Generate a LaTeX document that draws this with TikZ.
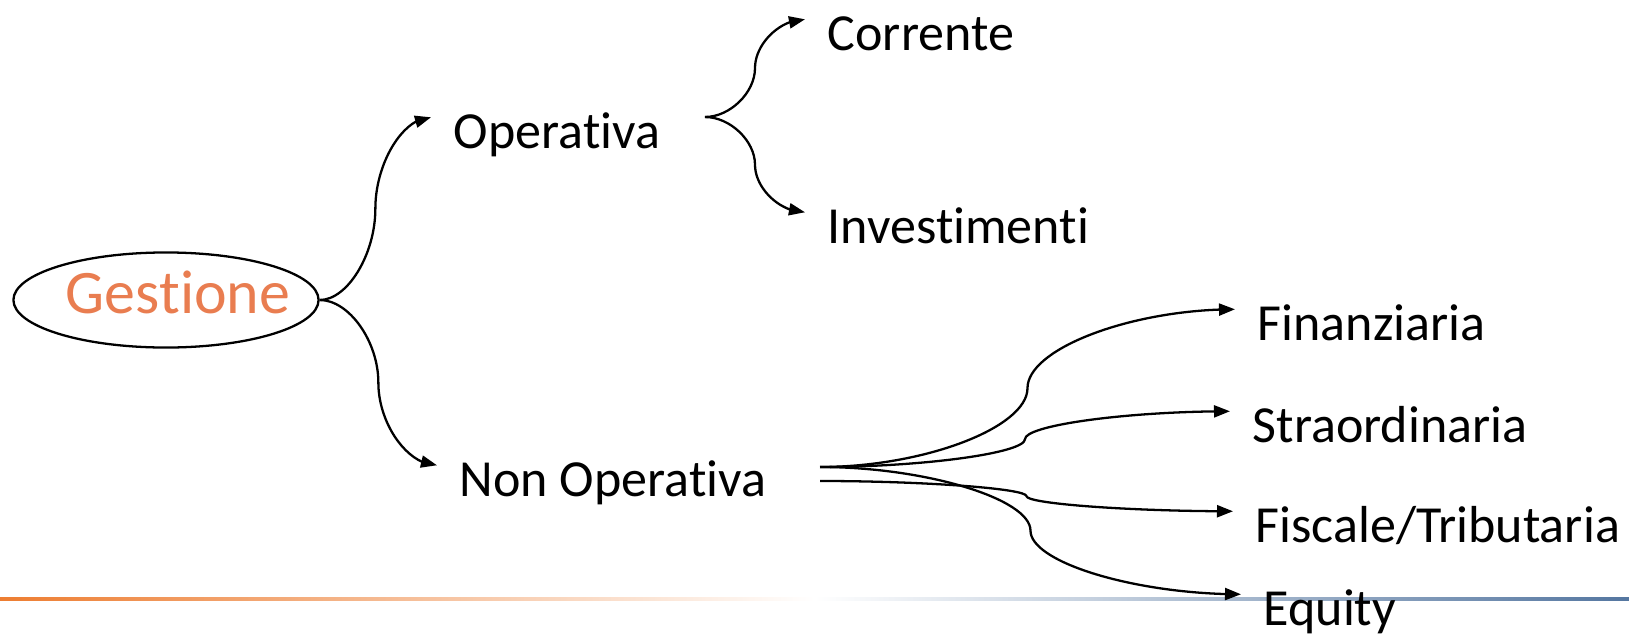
\documentclass[tikz,border=0pt]{standalone}
\usepackage{fontspec}
\setmainfont{Carlito}[Ligatures=NoCommon]
\usetikzlibrary{shapes.geometric,arrows.meta,bending,calc}
\definecolor{gestorange}{RGB}{233,125,80}
\definecolor{barorange}{RGB}{237,125,49}
\definecolor{barblue}{RGB}{84,118,160}
\begin{document}
\begin{tikzpicture} [x=0.01cm,y=-0.01cm,
    voce/.style={anchor=base west,inner sep=0pt,inner xsep=0.22cm,text height=0.3cm,text depth=0pt,font=\fontsize{14.8}{17}\selectfont},
    ramo/.style={line width=0.65pt,-{Triangle[length=0.16cm,width=0.12cm]},
        to path={let \p1=(\tikztostart), \p2=(\tikztotarget) in
            .. controls ({0.75*\x1+0.25*\x2},\y1) and ({0.5*\x1+0.5*\x2},{0.75*\y1+0.25*\y2})
            .. ({0.5*\x1+0.5*\x2},{0.5*\y1+0.5*\y2})
            .. controls ({0.5*\x1+0.5*\x2},{0.25*\y1+0.75*\y2}) and ({0.25*\x1+0.75*\x2},\y2)
            .. (\tikztotarget)}}]
\useasboundingbox (0,0) rectangle (1629,636);

%bar
        \shade[left color=barorange,right color=barblue,middle color=white] (0,597.5) rectangle (1629,600.5);

%gestione
        \node[ellipse,draw,line width=0.65pt,minimum width=3.05cm,minimum height=0.95cm,inner sep=0pt,text height=0.26cm,text depth=0pt,text=gestorange,font=\fontsize{17.6}{20}\selectfont] (gest) at (166,300) {\makebox[1.9cm]{\hspace{0.24cm}Gestione}};

%operativa
        \node[voce] (op) at (431,148) {Operativa};
        \node[voce] (corr) at (805,50) {Corrente};
        \node[voce] (inv) at (805,243) {Investimenti};
        \coordinate (opfork) at (705,117);
        \draw [ramo] (gest.east) to (op.north west);
        \draw [ramo] (opfork) to (corr.north west);
        \draw [ramo] (opfork) to (inv.north west);

%non operativa
        \node[voce] (nop) at (437,496) {Non Operativa};
        \node[voce] (fin) at (1235,340) {Finanziaria};
        \node[voce] (stra) at (1230,442) {Straordinaria};
        \node[voce] (fisc) at (1233,542) {Fiscale/Tributaria};
        \node[voce] (eq) at (1241,625) {Equity};
        \coordinate (nopfork) at (820,467);
        \coordinate (nopfork2) at (820,481);
        \draw [ramo] (gest.east) to (nop.north west);
        \draw [ramo] (nopfork) to (fin.north west);
        \draw [ramo] (nopfork) to (stra.north west);
        \draw [ramo] (nopfork2) to (fisc.north west);
        \draw [ramo] (nopfork) to (eq.north west);
\end{tikzpicture}
\end{document}
